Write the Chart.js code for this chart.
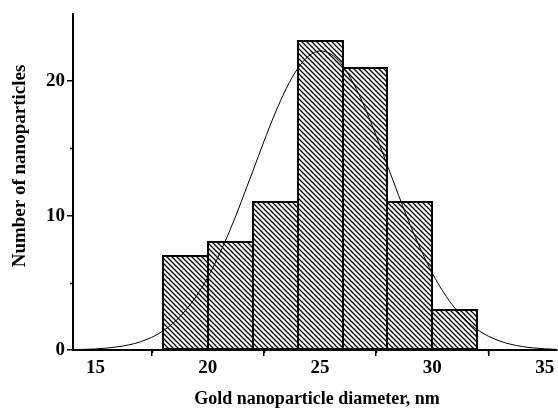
<!DOCTYPE html>
<html>
<head>
<meta charset="utf-8">
<script src="https://cdn.jsdelivr.net/npm/chart.js@4/dist/chart.umd.min.js"></script>
<style>
html,body{margin:0;padding:0;background:#fff;}
#wrap{width:558px;height:409px;}
</style>
</head>
<body>
<div id="wrap"><canvas id="c" width="558" height="409"></canvas></div>
<script>
// ---- data ----
const binCenters = [19, 21, 23, 25, 27, 29, 31];
const binCounts  = [7, 8, 11, 23, 21, 11, 3];
const fitX = [14, 15, 16, 17, 18, 19, 20, 21, 22, 22.5, 23, 23.5, 24, 24.5, 25, 25.5, 26, 26.5, 27, 27.5, 28, 29, 30, 31, 32, 33, 34, 35, 35.5];
const fitY = [0.03, 0.08, 0.24, 0.61, 1.41, 2.92, 5.40, 8.96, 13.28, 15.51, 17.62, 19.47, 20.93, 21.88, 22.25, 22.0, 21.16, 19.80, 18.02, 15.94, 13.73, 9.36, 5.71, 3.12, 1.52, 0.67, 0.26, 0.09, 0.05];
const xTicks = [15, 20, 25, 30, 35];
const xMinor = [17.5, 22.5, 27.5, 32.5];
const yTicks = [0, 10, 20];
const yMinor = [5, 15];
const xTitle = 'Gold nanoparticle diameter, nm';
const yTitle = 'Number of nanoparticles';

const FONT = '"Liberation Serif", "Times New Roman", serif';

// hatch pattern
function makeHatch() {
  const s = 5;
  const p = document.createElement('canvas');
  p.width = s; p.height = s;
  const g = p.getContext('2d');
  g.fillStyle = '#fff';
  g.fillRect(0, 0, s, s);
  g.strokeStyle = '#000';
  g.lineWidth = 1.3;
  g.beginPath();
  g.moveTo(-1, -1); g.lineTo(s + 1, s + 1);
  g.moveTo(-1, s - 1); g.lineTo(1, s + 1);
  g.moveTo(s - 1, -1); g.lineTo(s + 1, 1);
  g.stroke();
  return document.getElementById('c').getContext('2d').createPattern(p, 'repeat');
}

const extras = {
  id: 'extras',
  afterDatasetDraw(chart, args) {
    if (args.meta.type !== 'bar') return;
    const ctx = chart.ctx;
    ctx.save();
    ctx.strokeStyle = '#000';
    ctx.lineWidth = 2;
    args.meta.data.forEach(el => {
      const left = el.x - el.width / 2, right = el.x + el.width / 2;
      ctx.strokeRect(Math.round(left), Math.round(el.y), Math.round(right) - Math.round(left), Math.round(el.base) - Math.round(el.y));
    });
    ctx.restore();
  },
  afterDraw(chart) {
    const ctx = chart.ctx;
    const xs = chart.scales.x, ys = chart.scales.y;
    const ca = chart.chartArea;
    ctx.save();
    ctx.strokeStyle = '#000';
    ctx.lineWidth = 1.5;
    ctx.beginPath();
    xMinor.forEach(v => {
      const px = Math.round(xs.getPixelForValue(v)) + 0.5;
      ctx.moveTo(px, ca.bottom); ctx.lineTo(px, ca.bottom + 3);
    });
    yMinor.forEach(v => {
      const py = Math.round(ys.getPixelForValue(v)) + 0.5;
      ctx.moveTo(ca.left, py); ctx.lineTo(ca.left - 3, py);
    });
    ctx.stroke();
    ctx.fillStyle = '#000';
    ctx.textAlign = 'center';
    ctx.textBaseline = 'middle';
    ctx.font = 'bold 18px ' + FONT;
    ctx.fillText(xTitle, 317, 399);
    ctx.font = 'bold 19px ' + FONT;
    ctx.translate(20, 166);
    ctx.rotate(-Math.PI / 2);
    ctx.fillText(yTitle, 0, 0);
    ctx.restore();
  }
};

const tickFont = { family: FONT, size: 19, weight: 'bold' };

new Chart(document.getElementById('c'), {
  data: {
    datasets: [
      {
        type: 'line',
        data: fitX.map((x, i) => ({ x: x, y: fitY[i] })),
        borderColor: '#000',
        borderWidth: 1,
        pointRadius: 0,
        cubicInterpolationMode: 'monotone',
        fill: false,
        order: 0
      },
      {
        type: 'bar',
        data: binCenters.map((x, i) => ({ x: x, y: binCounts[i] })),
        backgroundColor: makeHatch(),
        borderWidth: 0,
        barPercentage: 1,
        categoryPercentage: 1,
        order: 1
      }
    ]
  },
  options: {
    responsive: false,
    animation: false,
    devicePixelRatio: 1,
    layout: { padding: { left: 0, top: 14, right: 1, bottom: 0 } },
    plugins: { legend: { display: false }, tooltip: { enabled: false } },
    scales: {
      x: {
        type: 'linear',
        min: 14,
        max: 35.55,
        offset: false,
        afterBuildTicks: s => { s.ticks = xTicks.map(v => ({ value: v })); },
        afterFit: s => { s.height = 59; },
        grid: { drawOnChartArea: false, drawTicks: true, tickLength: 6, color: '#000', lineWidth: 1.5 },
        border: { display: true, color: '#000', width: 2 },
        ticks: { font: tickFont, color: '#000', padding: 1, maxRotation: 0 }
      },
      y: {
        type: 'linear',
        min: 0,
        max: 25,
        afterBuildTicks: s => { s.ticks = yTicks.map(v => ({ value: v })); },
        afterFit: s => { s.width = 73; },
        grid: { drawOnChartArea: false, drawTicks: true, tickLength: 6, color: '#000', lineWidth: 1.5 },
        border: { display: true, color: '#000', width: 2 },
        ticks: { font: tickFont, color: '#000', padding: 2 }
      }
    }
  },
  plugins: [extras]
});
</script>
</body>
</html>
